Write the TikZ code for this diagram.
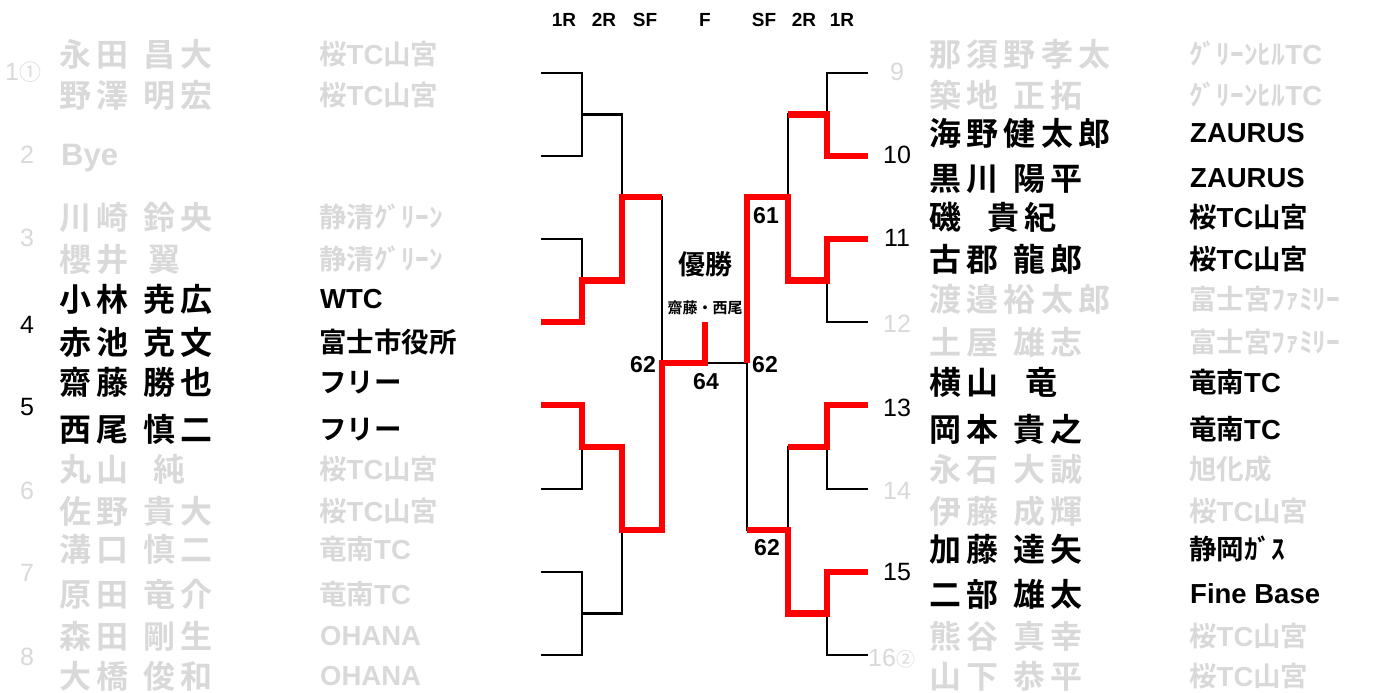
\documentclass[tikz,border=0pt]{standalone}
\usepackage{fontspec}
\newfontfamily\nmfont{Noto Sans CJK JP Bold}[LetterSpace=16]
\newfontfamily\jpfont{Noto Sans CJK JP Bold}
\newfontfamily\jpreg{Noto Sans CJK JP}
\newfontfamily\latfont{Liberation Sans}
\newcommand\gp[1]{\hspace{#1pt}}
\newcommand\Lt[1]{{\latfont\bfseries #1}}
\definecolor{lgray}{RGB}{217,217,217}
\tikzset{
  nm/.style={anchor=west, inner sep=0pt, font=\nmfont\fontsize{32}{32}\selectfont, text height=26.6pt, text depth=2.2pt},
  club/.style={anchor=west, inner sep=0pt, font=\jpfont\fontsize{27.5}{27.5}\selectfont, text height=22.8pt, text depth=1.9pt},
  clubl/.style={anchor=west, inner sep=0pt, font=\latfont\bfseries\fontsize{27.5}{27.5}\selectfont, text height=19.7pt, text depth=0pt},
  seed/.style={inner sep=0pt, font=\latfont\fontsize{25}{25}\selectfont, text height=17.9pt, text depth=0pt},
  hdr/.style={inner sep=0pt, font=\latfont\bfseries\fontsize{19}{19}\selectfont, text height=13.6pt, text depth=0pt},
  score/.style={inner sep=0pt, font=\latfont\bfseries\fontsize{23}{23}\selectfont, text height=16.5pt, text depth=0pt},
  lost/.style={text=lgray},
  br/.style={line width=2.6pt, black, line join=miter},
  win/.style={line width=6.5pt, red, line join=miter},
}
\begin{document}
\begin{tikzpicture}[x=1pt, y=-1pt]
\fill[white] (0,0) rectangle (1389,693);
\useasboundingbox (0,0) rectangle (1389,693);

% ---- coordinates: left half
\coordinate (L1) at (541,73);  \coordinate (L2) at (541,156);
\coordinate (L3) at (541,239); \coordinate (L4) at (541,322);
\coordinate (L5) at (541,405); \coordinate (L6) at (541,489);
\coordinate (L7) at (541,572); \coordinate (L8) at (541,655);
\coordinate (M1) at (582,114.5); \coordinate (M2) at (582,280.5);
\coordinate (M3) at (582,447);   \coordinate (M4) at (582,613.5);
\coordinate (Q1) at (622,197);   \coordinate (Q2) at (622,530);
\coordinate (S)  at (662,363);
% ---- final
\coordinate (F) at (705,363); \coordinate (W) at (705,322);
% ---- right half
\coordinate (R9)  at (868,73);  \coordinate (R10) at (868,156);
\coordinate (R11) at (868,239); \coordinate (R12) at (868,322);
\coordinate (R13) at (868,405); \coordinate (R14) at (868,489);
\coordinate (R15) at (868,572); \coordinate (R16) at (868,655);
\coordinate (N1) at (827,114.5); \coordinate (N2) at (827,280.5);
\coordinate (N3) at (827,447);   \coordinate (N4) at (827,613.5);
\coordinate (P1) at (788,197);   \coordinate (P2) at (788,530);
\coordinate (T)  at (747,363);

% ---- black bracket
\draw[br] (L1) -| (M1) |- (L2);
\draw[br] (L3) -| (M2) |- (L4);
\draw[br] (L5) -| (M3) |- (L6);
\draw[br] (L7) -| (M4) |- (L8);
\draw[br] (M1) -| (Q1) |- (M2);
\draw[br] (M3) -| (Q2) |- (M4);
\draw[br] (Q1) -| (S) |- (Q2);
\draw[br] (S) -- (T);
\draw[br] (R9) -| (N1) |- (R10);
\draw[br] (R11) -| (N2) |- (R12);
\draw[br] (R13) -| (N3) |- (R14);
\draw[br] (R15) -| (N4) |- (R16);
\draw[br] (N1) -| (P1) |- (N2);
\draw[br] (N3) -| (P2) |- (N4);
\draw[br] (P1) -| (T) |- (P2);

% ---- winners' paths
\draw[win] (L4) -| (M2) -| (Q1) -- (Q1 -| S);
\draw[win] (L5) -| (M3) -| (Q2) -| (S) -- (F) -- (W);
\draw[win] (R10) -| (N1) -- (N1 -| P1);
\draw[win] (R11) -| (N2) -| (P1) -| (T);
\draw[win] (R13) -| (N3) -- (N3 -| P2);
\draw[win] (R15) -| (N4) -| (P2) -- (P2 -| T);

% ---- header
\node[hdr] (h1) at (564,20) {1R};
\node[hdr] (h2) at (604,20) {2R};
\node[hdr] (h3) at (645,20) {SF};
\node[hdr] (h4) at (705,20) {F};
\node[hdr] (h5) at (764,20) {SF};
\node[hdr] (h6) at (804,20) {2R};
\node[hdr] (h7) at (842,20) {1R};

% ---- champion
\node[inner sep=0pt, font=\jpfont\fontsize{27}{27}\selectfont, text height=22.4pt, text depth=1.9pt] (yusho) at (705,264) {優勝};
\node[inner sep=0pt, font=\jpfont\fontsize{15}{15}\selectfont, text height=12.45pt, text depth=1.05pt] (champ) at (705,308) {齋藤・西尾};

% ---- scores
\node[score] (sc1) at (766,215) {61};
\node[score] (sc2) at (643,364) {62};
\node[score] (sc3) at (706,381) {64};
\node[score] (sc4) at (765,364) {62};
\node[score] (sc5) at (767,547) {62};

% ---- left seeds
\node[seed, lost, anchor=west] (sd1) at (5,72) {1{\jpreg\fontsize{22}{22}\selectfont ①}};
\node[seed, lost] (sd2) at (27,155) {2};
\node[seed, lost] (sd3) at (27,238) {3};
\node[seed] (sd4) at (27,325) {4};
\node[seed] (sd5) at (27,407) {5};
\node[seed, lost] (sd6) at (27,491) {6};
\node[seed, lost] (sd7) at (27,573) {7};
\node[seed, lost] (sd8) at (27,657) {8};
% ---- right seeds
\node[seed, lost] (sd9) at (897,72) {9};
\node[seed] (sd10) at (897,155) {10};
\node[seed] (sd11) at (897,238) {11};
\node[seed, lost] (sd12) at (897,324) {12};
\node[seed] (sd13) at (897,408) {13};
\node[seed, lost] (sd14) at (897,491) {14};
\node[seed] (sd15) at (897,572) {15};
\node[seed, lost, anchor=west] (sd16) at (868,658) {16{\jpreg\fontsize{19}{19}\selectfont ②}};

% ---- left names
\node[nm, lost] (n1a) at (59.5,54) {永田\gp{15}昌大};
\node[nm, lost] (n1b) at (59.5,95) {野澤\gp{15}明宏};
\node[anchor=west, inner sep=0pt, lost, font=\latfont\bfseries\fontsize{31}{31}\selectfont, text height=22.2pt, text depth=0pt] (n2a) at (61,154) {Bye};
\node[nm, lost] (n3a) at (59.5,217) {川崎\gp{15}鈴央};
\node[nm, lost] (n3b) at (59.5,259) {櫻井\gp{20}翼};
\node[nm] (n4a) at (59.5,299) {小林\gp{15}尭広};
\node[nm] (n4b) at (59.5,342) {赤池\gp{15}克文};
\node[nm] (n5a) at (59.5,382) {齋藤\gp{15}勝也};
\node[nm] (n5b) at (59.5,429) {西尾\gp{15}慎二};
\node[nm, lost] (n6a) at (59.5,469) {丸山\gp{25}純};
\node[nm, lost] (n6b) at (59.5,511) {佐野\gp{15}貴大};
\node[nm, lost] (n7a) at (59.5,549) {溝口\gp{15}慎二};
\node[nm, lost] (n7b) at (59.5,594) {原田\gp{15}竜介};
\node[nm, lost] (n8a) at (59.5,636) {森田\gp{15}剛生};
\node[nm, lost] (n8b) at (59.5,676) {大橋\gp{15}俊和};
% ---- left clubs
\node[club, lost] (c1a) at (319,54) {桜\Lt{TC}山宮};
\node[club, lost] (c1b) at (319,95) {桜\Lt{TC}山宮};
\node[club, lost] (c3a) at (319,217) {静清ｸﾞﾘｰﾝ};
\node[club, lost] (c3b) at (319,259) {静清ｸﾞﾘｰﾝ};
\node[clubl] (c4a) at (320,299) {WTC};
\node[club] (c4b) at (319,342) {富士市役所};
\node[club] (c5a) at (319,382) {フリー};
\node[club] (c5b) at (319,429) {フリー};
\node[club, lost] (c6a) at (319,469) {桜\Lt{TC}山宮};
\node[club, lost] (c6b) at (319,511) {桜\Lt{TC}山宮};
\node[club, lost] (c7a) at (319,549) {竜南\Lt{TC}};
\node[club, lost] (c7b) at (319,594) {竜南\Lt{TC}};
\node[clubl, lost] (c8a) at (320,636) {OHANA};
\node[clubl, lost] (c8b) at (320,676) {OHANA};

% ---- right names
\node[nm, lost] (n9a) at (929.5,54) {那須野孝太};
\node[nm, lost] (n9b) at (929.5,95) {築地\gp{15}正拓};
\node[nm] (n10a) at (929.5,133) {海野健太郎};
\node[nm] (n10b) at (929.5,178) {黒川\gp{15}陽平};
\node[nm] (n11a) at (929.5,217) {磯\gp{26}貴紀};
\node[nm] (n11b) at (929.5,259) {古郡\gp{15}龍郎};
\node[nm, lost] (n12a) at (929.5,299) {渡邉裕太郎};
\node[nm, lost] (n12b) at (929.5,342) {土屋\gp{15}雄志};
\node[nm] (n13a) at (929.5,382) {横山\gp{27}竜};
\node[nm] (n13b) at (929.5,429) {岡本\gp{15}貴之};
\node[nm, lost] (n14a) at (929.5,469) {永石\gp{15}大誠};
\node[nm, lost] (n14b) at (929.5,511) {伊藤\gp{15}成輝};
\node[nm] (n15a) at (929.5,549) {加藤\gp{15}達矢};
\node[nm] (n15b) at (929.5,594) {二部\gp{15}雄太};
\node[nm, lost] (n16a) at (929.5,636) {熊谷\gp{15}真幸};
\node[nm, lost] (n16b) at (929.5,676) {山下\gp{15}恭平};
% ---- right clubs
\node[club, lost] (c9a) at (1189,54) {ｸﾞﾘｰﾝﾋﾙ\Lt{TC}};
\node[club, lost] (c9b) at (1189,95) {ｸﾞﾘｰﾝﾋﾙ\Lt{TC}};
\node[clubl] (c10a) at (1190,133) {ZAURUS};
\node[clubl] (c10b) at (1190,178) {ZAURUS};
\node[club] (c11a) at (1189,217) {桜\Lt{TC}山宮};
\node[club] (c11b) at (1189,259) {桜\Lt{TC}山宮};
\node[club, lost] (c12a) at (1189,299) {富士宮ﾌｧﾐﾘｰ};
\node[club, lost] (c12b) at (1189,342) {富士宮ﾌｧﾐﾘｰ};
\node[club] (c13a) at (1189,382) {竜南\Lt{TC}};
\node[club] (c13b) at (1189,429) {竜南\Lt{TC}};
\node[club, lost] (c14a) at (1189,469) {旭化成};
\node[club, lost] (c14b) at (1189,511) {桜\Lt{TC}山宮};
\node[club] (c15a) at (1189,549) {静岡ｶﾞｽ};
\node[clubl] (c15b) at (1190,594) {Fine Base};
\node[club, lost] (c16a) at (1189,636) {桜\Lt{TC}山宮};
\node[club, lost] (c16b) at (1189,676) {桜\Lt{TC}山宮};
\end{tikzpicture}
\end{document}
